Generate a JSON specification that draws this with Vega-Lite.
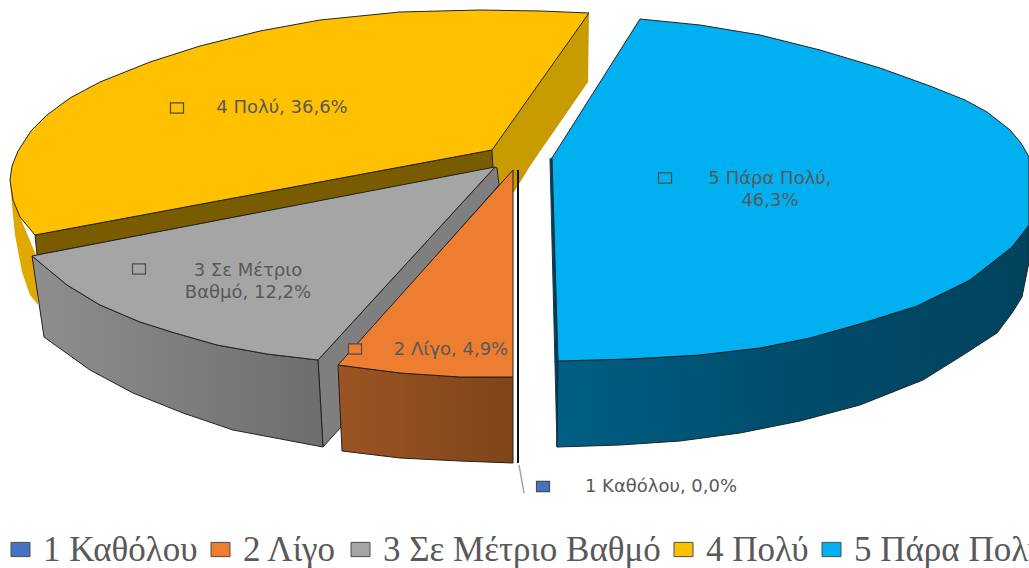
{"$schema":"https://vega.github.io/schema/vega-lite/v6.json","width":1029,"height":568,"padding":0,"autosize":{"type":"none"},"background":"white","view":{"stroke":null},
"datasets":{
"sectors":[
{"category":"1 Καθόλου","percent":0.0,"label":"1 Καθόλου, 0,0%","lx":661,"ly":487,"mx":543,"my":486.5},
{"category":"2 Λίγο","percent":4.9,"label":"2 Λίγο, 4,9%","lx":451,"ly":350,"mx":355,"my":349},
{"category":"3 Σε Μέτριο Βαθμό","percent":12.2,"label":"3 Σε Μέτριο\nΒαθμό, 12,2%","lx":248,"ly":271,"mx":139,"my":269},
{"category":"4 Πολύ","percent":36.6,"label":"4 Πολύ, 36,6%","lx":282,"ly":108,"mx":177,"my":108},
{"category":"5 Πάρα Πολύ","percent":46.3,"label":"5 Πάρα Πολύ,\n46,3%","lx":770,"ly":179,"mx":665,"my":178}
],
"tops":[
{"category":"4 Πολύ","i":0,"x":492,"y":150},{"category":"4 Πολύ","i":1,"x":589,"y":13},{"category":"4 Πολύ","i":2,"x":540,"y":11},{"category":"4 Πολύ","i":3,"x":480,"y":10},{"category":"4 Πολύ","i":4,"x":400,"y":12},{"category":"4 Πολύ","i":5,"x":320,"y":20},{"category":"4 Πολύ","i":6,"x":260,"y":31},{"category":"4 Πολύ","i":7,"x":200,"y":46},{"category":"4 Πολύ","i":8,"x":150,"y":62},{"category":"4 Πολύ","i":9,"x":100,"y":82},{"category":"4 Πολύ","i":10,"x":70,"y":98},{"category":"4 Πολύ","i":11,"x":47,"y":115},{"category":"4 Πολύ","i":12,"x":31,"y":131},{"category":"4 Πολύ","i":13,"x":18,"y":151},{"category":"4 Πολύ","i":14,"x":12,"y":166},{"category":"4 Πολύ","i":15,"x":10,"y":180},{"category":"4 Πολύ","i":16,"x":13,"y":200},{"category":"4 Πολύ","i":17,"x":20,"y":217},{"category":"4 Πολύ","i":18,"x":35,"y":235},{"category":"4 Πολύ","i":19,"x":492,"y":150},
{"category":"3 Σε Μέτριο Βαθμό","i":0,"x":495,"y":167},{"category":"3 Σε Μέτριο Βαθμό","i":1,"x":32,"y":256},{"category":"3 Σε Μέτριο Βαθμό","i":2,"x":67,"y":285},{"category":"3 Σε Μέτριο Βαθμό","i":3,"x":100,"y":305},{"category":"3 Σε Μέτριο Βαθμό","i":4,"x":140,"y":322},{"category":"3 Σε Μέτριο Βαθμό","i":5,"x":175,"y":333},{"category":"3 Σε Μέτριο Βαθμό","i":6,"x":217,"y":345},{"category":"3 Σε Μέτριο Βαθμό","i":7,"x":267,"y":354},{"category":"3 Σε Μέτριο Βαθμό","i":8,"x":318,"y":360},{"category":"3 Σε Μέτριο Βαθμό","i":9,"x":495,"y":167},
{"category":"2 Λίγο","i":0,"x":513,"y":170},{"category":"2 Λίγο","i":1,"x":338,"y":365},{"category":"2 Λίγο","i":2,"x":400,"y":373},{"category":"2 Λίγο","i":3,"x":460,"y":377},{"category":"2 Λίγο","i":4,"x":513,"y":377},{"category":"2 Λίγο","i":5,"x":513,"y":170},
{"category":"5 Πάρα Πολύ","i":0,"x":552,"y":158},{"category":"5 Πάρα Πολύ","i":1,"x":640,"y":19},{"category":"5 Πάρα Πολύ","i":2,"x":700,"y":25},{"category":"5 Πάρα Πολύ","i":3,"x":760,"y":35},{"category":"5 Πάρα Πολύ","i":4,"x":820,"y":50},{"category":"5 Πάρα Πολύ","i":5,"x":880,"y":68},{"category":"5 Πάρα Πολύ","i":6,"x":930,"y":86},{"category":"5 Πάρα Πολύ","i":7,"x":965,"y":100},{"category":"5 Πάρα Πολύ","i":8,"x":987,"y":112},{"category":"5 Πάρα Πολύ","i":9,"x":1010,"y":130},{"category":"5 Πάρα Πολύ","i":10,"x":1021,"y":143},{"category":"5 Πάρα Πολύ","i":11,"x":1029,"y":157},{"category":"5 Πάρα Πολύ","i":12,"x":1029,"y":225},{"category":"5 Πάρα Πολύ","i":13,"x":1012,"y":247},{"category":"5 Πάρα Πολύ","i":14,"x":970,"y":280},{"category":"5 Πάρα Πολύ","i":15,"x":917,"y":306},{"category":"5 Πάρα Πολύ","i":16,"x":863,"y":323},{"category":"5 Πάρα Πολύ","i":17,"x":810,"y":338},{"category":"5 Πάρα Πολύ","i":18,"x":760,"y":348},{"category":"5 Πάρα Πολύ","i":19,"x":700,"y":355},{"category":"5 Πάρα Πολύ","i":20,"x":630,"y":359},{"category":"5 Πάρα Πολύ","i":21,"x":558,"y":361},{"category":"5 Πάρα Πολύ","i":22,"x":552,"y":158}
],
"walls":[
{"part":"yellow_outer","i":0,"x":10,"y":180},{"part":"yellow_outer","i":1,"x":20,"y":217},{"part":"yellow_outer","i":2,"x":36,"y":255},{"part":"yellow_outer","i":3,"x":38,"y":305},{"part":"yellow_outer","i":4,"x":30,"y":295},{"part":"yellow_outer","i":5,"x":22,"y":272},{"part":"yellow_outer","i":6,"x":15,"y":235},{"part":"yellow_outer","i":7,"x":12,"y":205},
{"part":"yellow_right","i":0,"x":492,"y":150},{"part":"yellow_right","i":1,"x":589,"y":13},{"part":"yellow_right","i":2,"x":588,"y":82},{"part":"yellow_right","i":3,"x":532,"y":163},{"part":"yellow_right","i":4,"x":514,"y":192},{"part":"yellow_right","i":5,"x":495,"y":192},{"part":"yellow_right","i":6,"x":492,"y":168},
{"part":"yellow_inner","i":0,"x":35,"y":235},{"part":"yellow_inner","i":1,"x":492,"y":150},{"part":"yellow_inner","i":2,"x":493,"y":168},{"part":"yellow_inner","i":3,"x":37,"y":255},{"part":"yellow_inner","i":4,"x":35,"y":235},
{"part":"grey_inner","i":0,"x":318,"y":360},{"part":"grey_inner","i":1,"x":495,"y":167},{"part":"grey_inner","i":2,"x":497,"y":168},{"part":"grey_inner","i":3,"x":499,"y":185},{"part":"grey_inner","i":4,"x":344,"y":360},{"part":"grey_inner","i":5,"x":341,"y":427},{"part":"grey_inner","i":6,"x":323,"y":447},{"part":"grey_inner","i":7,"x":318,"y":360},
{"part":"grey_side","i":0,"x":32,"y":256},{"part":"grey_side","i":1,"x":67,"y":285},{"part":"grey_side","i":2,"x":100,"y":305},{"part":"grey_side","i":3,"x":140,"y":322},{"part":"grey_side","i":4,"x":175,"y":333},{"part":"grey_side","i":5,"x":217,"y":345},{"part":"grey_side","i":6,"x":267,"y":354},{"part":"grey_side","i":7,"x":318,"y":360},{"part":"grey_side","i":8,"x":323,"y":447},{"part":"grey_side","i":9,"x":233,"y":430},{"part":"grey_side","i":10,"x":183,"y":413},{"part":"grey_side","i":11,"x":133,"y":393},{"part":"grey_side","i":12,"x":90,"y":370},{"part":"grey_side","i":13,"x":44,"y":337},{"part":"grey_side","i":14,"x":32,"y":256},
{"part":"orange_side","i":0,"x":338,"y":365},{"part":"orange_side","i":1,"x":400,"y":373},{"part":"orange_side","i":2,"x":460,"y":377},{"part":"orange_side","i":3,"x":513,"y":377},{"part":"orange_side","i":4,"x":513,"y":463},{"part":"orange_side","i":5,"x":460,"y":461},{"part":"orange_side","i":6,"x":400,"y":458},{"part":"orange_side","i":7,"x":342,"y":451},{"part":"orange_side","i":8,"x":338,"y":365},
{"part":"blue_strip","i":0,"x":550,"y":159},{"part":"blue_strip","i":1,"x":552,"y":158},{"part":"blue_strip","i":2,"x":558,"y":361},{"part":"blue_strip","i":3,"x":557,"y":447},{"part":"blue_strip","i":4,"x":550,"y":159},
{"part":"blue_side","i":0,"x":558,"y":361},{"part":"blue_side","i":1,"x":630,"y":359},{"part":"blue_side","i":2,"x":700,"y":355},{"part":"blue_side","i":3,"x":760,"y":348},{"part":"blue_side","i":4,"x":810,"y":338},{"part":"blue_side","i":5,"x":863,"y":323},{"part":"blue_side","i":6,"x":917,"y":306},{"part":"blue_side","i":7,"x":970,"y":280},{"part":"blue_side","i":8,"x":1012,"y":247},{"part":"blue_side","i":9,"x":1029,"y":225},{"part":"blue_side","i":10,"x":1029,"y":262},{"part":"blue_side","i":11,"x":1022,"y":297},{"part":"blue_side","i":12,"x":1012,"y":313},{"part":"blue_side","i":13,"x":997,"y":333},{"part":"blue_side","i":14,"x":963,"y":355},{"part":"blue_side","i":15,"x":923,"y":380},{"part":"blue_side","i":16,"x":860,"y":405},{"part":"blue_side","i":17,"x":800,"y":421},{"part":"blue_side","i":18,"x":740,"y":433},{"part":"blue_side","i":19,"x":680,"y":441},{"part":"blue_side","i":20,"x":620,"y":445},{"part":"blue_side","i":21,"x":557,"y":447},{"part":"blue_side","i":22,"x":558,"y":361},
{"part":"zero_line","i":0,"x":518,"y":170},{"part":"zero_line","i":1,"x":518,"y":463},
{"part":"leader","i":0,"x":519,"y":465},{"part":"leader","i":1,"x":524,"y":493}
]},
"encoding":{
"x":{"field":"x","type":"quantitative","scale":{"domain":[0,1029],"range":[0,1029],"nice":false,"zero":false},"axis":null},
"y":{"field":"y","type":"quantitative","scale":{"domain":[568,0],"range":[568,0],"nice":false,"zero":false},"axis":null},
"order":{"field":"i","type":"ordinal"}
},
"layer":[
{"data":{"name":"walls"},"transform":[{"filter":"datum.part=='yellow_outer'"}],"mark":{"type":"line","filled":true,"fill":"#DFA900","stroke":null}},
{"data":{"name":"walls"},"transform":[{"filter":"datum.part=='yellow_right'"}],"mark":{"type":"line","filled":true,"fill":"#C89B00","stroke":null}},
{"data":{"name":"walls"},"transform":[{"filter":"datum.part=='yellow_inner'"}],"mark":{"type":"line","filled":true,"fill":"#7A5C00","stroke":"#222222","strokeWidth":1}},
{"data":{"name":"walls"},"transform":[{"filter":"datum.part=='grey_inner'"}],"mark":{"type":"line","filled":true,"fill":"#7F7F7F","stroke":"#222222","strokeWidth":1}},
{"data":{"name":"walls"},"transform":[{"filter":"datum.part=='grey_side'"}],"mark":{"type":"line","filled":true,"stroke":"#222222","strokeWidth":1,"fill":{"gradient":"linear","x1":0,"y1":0,"x2":1,"y2":0,"stops":[{"offset":0,"color":"#8E8E8E"},{"offset":1,"color":"#6E6E6E"}]}}},
{"data":{"name":"walls"},"transform":[{"filter":"datum.part=='orange_side'"}],"mark":{"type":"line","filled":true,"stroke":"#222222","strokeWidth":1,"fill":{"gradient":"linear","x1":0,"y1":0,"x2":1,"y2":0,"stops":[{"offset":0,"color":"#9C5423"},{"offset":1,"color":"#7E4519"}]}}},
{"data":{"name":"walls"},"transform":[{"filter":"datum.part=='blue_strip'"}],"mark":{"type":"line","filled":true,"fill":"#003F5C","stroke":"#003F5C","strokeWidth":1}},
{"data":{"name":"walls"},"transform":[{"filter":"datum.part=='blue_side'"}],"mark":{"type":"line","filled":true,"stroke":"#222222","strokeWidth":1,"fill":{"gradient":"linear","x1":0,"y1":0,"x2":1,"y2":0,"stops":[{"offset":0,"color":"#005F85"},{"offset":0.5,"color":"#004C6B"},{"offset":1,"color":"#00435D"}]}}},
{"data":{"name":"tops"},"mark":{"type":"line","filled":true,"stroke":"#222222","strokeWidth":1},"encoding":{"color":{"field":"category","type":"nominal","scale":{"domain":["1 Καθόλου","2 Λίγο","3 Σε Μέτριο Βαθμό","4 Πολύ","5 Πάρα Πολύ"],"range":["#4472C4","#ED7D31","#A5A5A5","#FFC000","#00B0F0"]},"legend":{"title":null,"orient":"none","legendX":3,"legendY":532,"direction":"horizontal","columns":5,"gridAlign":"none","columnPadding":5,"symbolType":"M-1,-0.75H1V0.75H-1Z","symbolSize":361,"symbolStrokeColor":"#3F3F3F","symbolStrokeWidth":1,"labelFont":"Liberation Serif","labelFontSize":35,"labelColor":"#595959","labelOffset":5,"labelLimit":400}},"detail":{"field":"category"}}},
{"data":{"name":"walls"},"transform":[{"filter":"datum.part=='zero_line'"}],"mark":{"type":"line","stroke":"#111111","strokeWidth":2}},
{"data":{"name":"walls"},"transform":[{"filter":"datum.part=='leader'"}],"mark":{"type":"line","stroke":"#A6A6A6","strokeWidth":1.5}},
{"data":{"name":"sectors"},"mark":{"type":"point","filled":true,"opacity":1,"shape":"M-1,-0.78H1V0.78H-1Z","size":169,"stroke":"#4D4D4D","strokeWidth":1.2},
"encoding":{"x":{"field":"mx","type":"quantitative"},"y":{"field":"my","type":"quantitative"},"order":{"value":null},
"color":{"field":"category","type":"nominal"}}},
{"data":{"name":"sectors"},"mark":{"type":"text","font":"DejaVu Sans","fontSize":18,"fill":"#595959","align":"center","baseline":"middle","lineBreak":"\n","lineHeight":22},
"encoding":{"x":{"field":"lx","type":"quantitative"},"y":{"field":"ly","type":"quantitative"},"order":{"value":null},"text":{"field":"label","type":"nominal"}}}
]}
